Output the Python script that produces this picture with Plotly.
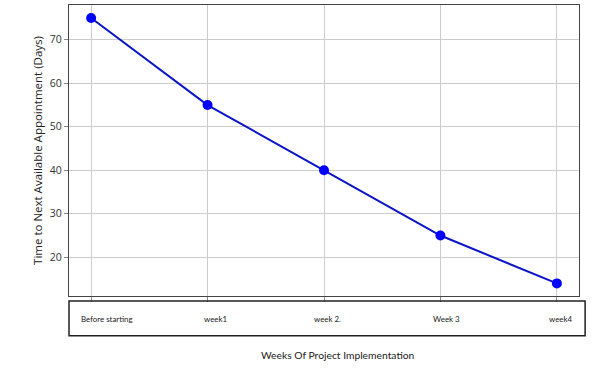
import plotly.graph_objects as go

categories = ["Before starting", "week1", "week 2.", "Week 3", "week4"]
days = [75, 55, 40, 25, 14]
y_ticks = [20, 30, 40, 50, 60, 70]
x_title = "Weeks Of Project Implementation"
y_title = "Time to Next Available Appointment (Days)"

# horizontal nudge (px) of each label inside the label box
label_nudges = [16, 8, 3, 6, 4]

fig = go.Figure()
fig.add_trace(go.Scatter(
    x=list(range(len(categories))), y=days, mode="lines+markers",
    line=dict(color="#0a14c8", width=2),
    marker=dict(color="#0000ff", size=10),
    showlegend=False,
))

for i, (lab, dx) in enumerate(zip(categories, label_nudges)):
    fig.add_annotation(x=i, y=0, xref="x", yref="paper", text=lab,
                       showarrow=False, xanchor="center", yanchor="middle",
                       yshift=-23, xshift=dx,
                       font=dict(family="Lato", size=7.9, color="#1a1a1a"))

fig.add_annotation(x=0.527, y=0, xref="paper", yref="paper", text=x_title,
                   showarrow=False, xanchor="center", yanchor="middle",
                   yshift=-59,
                   font=dict(family="Lato", size=10.3, color="#1a1a1a"))

# box around category labels
fig.add_shape(type="rect", xref="paper", yref="paper",
              x0=0.0, x1=1.012, y0=-0.017, y1=-0.137,
              line=dict(color="#222", width=1.5), fillcolor="rgba(0,0,0,0)")

fig.update_xaxes(
    range=[-0.19, 4.19], tickvals=list(range(len(categories))),
    showticklabels=False, ticks="outside", ticklen=5, tickcolor="#888",
    showgrid=True, gridcolor="#cccccc", gridwidth=1,
    showline=True, linecolor="#444", linewidth=1.2, mirror=True,
    zeroline=False,
)
fig.update_yaxes(
    range=[11.1, 78], tickvals=y_ticks,
    ticks="outside", ticklen=4, tickcolor="#888",
    tickfont=dict(family="Open Sans", size=10.5, color="#333"),
    showgrid=True, gridcolor="#cccccc", gridwidth=1,
    showline=True, linecolor="#444", linewidth=1.2, mirror=True,
    zeroline=False,
    title=dict(text=y_title, standoff=4,
               font=dict(family="Open Sans", size=11.5, color="#222")),
)
fig.update_layout(
    width=611, height=370,
    margin=dict(l=69, r=32, t=5, b=74),
    plot_bgcolor="white", paper_bgcolor="white",
)
fig.write_html("out.html", config={"displayModeBar": False},
               post_script="document.body.style.margin='0';document.body.style.overflow='hidden';")
